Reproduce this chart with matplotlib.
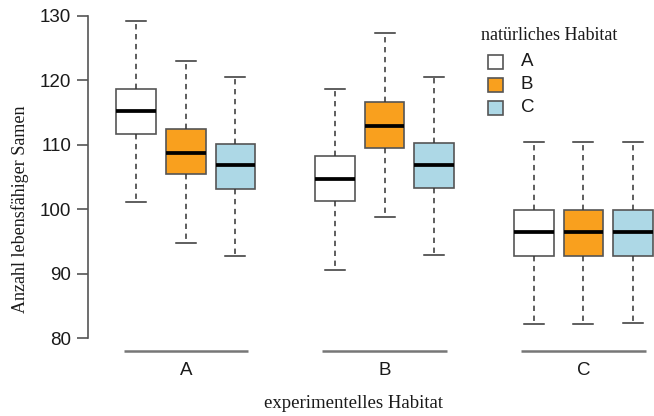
import matplotlib
matplotlib.use("Agg")
import matplotlib.pyplot as plt
from matplotlib.patches import Rectangle

# experimental habitat groups (x-axis) and natural habitat (fill colour)
exp_habitats = ["A", "B", "C"]
nat_habitats = ["A", "B", "C"]
colors = ["#FFFFFF", "#F9A01E", "#ADD8E6"]

# box statistics per experimental habitat, one entry per natural habitat
whislo = [[101.1, 94.7, 92.8], [90.5, 98.8, 92.9], [82.2, 82.2, 82.3]]
q1     = [[111.6, 105.4, 103.2], [101.2, 109.5, 103.3], [92.8, 92.8, 92.8]]
med    = [[115.2, 108.8, 106.8], [104.75, 112.9, 106.8], [96.4, 96.4, 96.4]]
q3     = [[118.7, 112.4, 110.1], [108.3, 116.6, 110.3], [99.9, 99.9, 99.9]]
whishi = [[129.2, 123.0, 120.5], [118.7, 127.4, 120.6], [110.5, 110.4, 110.5]]

yticks = [80, 90, 100, 110, 120, 130]

W, H = 654, 416
fig = plt.figure(figsize=(W / 100, H / 100), dpi=100)

# axes spanning x pixel 88..654, y pixel 0..416
ax = fig.add_axes([88 / W, 0, 1 - 88 / W, 1])
ax.set_xlim(0.034, 11.42)
ax.set_ylim(67.89, 132.48)

sans = "Liberation Sans"
serif = "Liberation Serif"

box_edge = "#555555"
for g in range(3):
    for k in range(3):
        pos = g * 4 + k + 1
        st = dict(whislo=whislo[g][k], q1=q1[g][k], med=med[g][k],
                  q3=q3[g][k], whishi=whishi[g][k], fliers=[])
        ax.bxp([st], positions=[pos], widths=0.8, patch_artist=True,
               showfliers=False,
               boxprops=dict(facecolor=colors[k], edgecolor=box_edge, linewidth=1.2),
               medianprops=dict(color="black", linewidth=2.7, solid_capstyle="butt"),
               whiskerprops=dict(color="#333333", linewidth=1.1, linestyle=(0, (3.5, 3))),
               capprops=dict(color="#333333", linewidth=1.1),
               capwidths=0.4, manage_ticks=False)

# group lines and labels
for g, lab in enumerate(exp_habitats):
    c = g * 4 + 2
    ax.plot([c - 1.25, c + 1.25], [77.98, 77.98], color="#777777", lw=1.8,
            clip_on=False, solid_capstyle="butt")
    ax.text(c, 75.0, lab, ha="center", va="center", fontsize=13.5,
            family=sans, color="#1a1a1a")

# y axis (R style)
for s in ["top", "right", "bottom"]:
    ax.spines[s].set_visible(False)
ax.spines["left"].set_bounds(80, 130)
ax.spines["left"].set_color("#555555")
ax.spines["left"].set_linewidth(1.2)
ax.set_yticks(yticks)
ax.set_yticklabels([str(t) for t in yticks], fontsize=13.5, family=sans,
                   color="#1a1a1a")
ax.tick_params(axis="y", length=8, width=1.2, color="#555555", pad=4)
ax.set_xticks([])

fig.text(20 / W, 1 - 209 / H, "Anzahl lebensfähiger Samen", rotation=90,
         ha="center", va="center", fontsize=13, family=serif, color="#1a1a1a")
fig.text(353 / W, 1 - 403 / H, "experimentelles Habitat", ha="center",
         va="center", fontsize=13.5, family=serif, color="#1a1a1a")

# legend (drawn manually)
fig.text(481 / W, 1 - 35 / H, "natürliches Habitat", ha="left", va="center",
         fontsize=13, family=serif, color="#1a1a1a")
row_y = [62, 84.5, 107.5]
for k, lab in enumerate(nat_habitats):
    yc = row_y[k]
    fig.patches.append(Rectangle((488 / W, 1 - (yc + 7) / H), 15 / W, 14 / H,
                                 transform=fig.transFigure, facecolor=colors[k],
                                 edgecolor=box_edge, linewidth=1.2))
    fig.text(521 / W, 1 - yc / H, lab, ha="left", va="center", fontsize=13.5,
             family=sans, color="#1a1a1a")

fig.savefig("out.png", dpi=100)
